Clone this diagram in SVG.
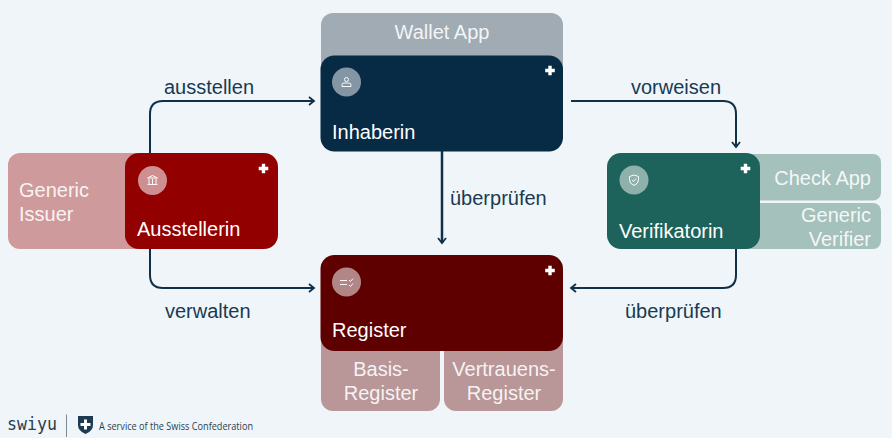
<svg xmlns="http://www.w3.org/2000/svg" width="892" height="438" viewBox="0 0 892 438">
<defs>
<marker id="arr" markerWidth="10" markerHeight="12" refX="7" refY="5" orient="auto" markerUnits="userSpaceOnUse" viewBox="0 0 10 10"><path d="M2 1L7 5L2 9" fill="none" stroke="#0f3048" stroke-width="1.8"/></marker>
<path id="plus" d="M-1.7 -4.8H1.7V-1.7H4.8V1.7H1.7V4.8H-1.7V1.7H-4.8V-1.7H-1.7Z" fill="#fff"/>
</defs>
<style>
text{font-family:"Liberation Sans",Arial,sans-serif}
.l{font-size:20px;fill:#1a3a52}
.n{font-size:20px;fill:#fff}
.s{font-size:20px;fill:#fff;fill-opacity:.9}
.m{text-anchor:middle}
.e{text-anchor:end}
.c{fill:none;stroke:#0f3048;stroke-width:2;marker-end:url(#arr)}
.i{fill:none;stroke:#fff;stroke-width:1;stroke-opacity:.95}
</style>
<rect width="892" height="438" fill="#eff5f9"/>
<g id="connectors">
<path class="c" d="M150 153V114Q150 101 163 101H314"/>
<path class="c" d="M150 249V275Q150 288 163 288H314"/>
<path class="c" d="M571 101H723Q736 101 736 114V147"/>
<path class="c" d="M736 249V275Q736 288 723 288H571"/>
<path class="c" d="M442 151V243" style="stroke-width:2.500"/>
</g>
<g id="labels">
<text class="l" x="164" y="94">ausstellen</text>
<text class="l" x="165" y="318">verwalten</text>
<text class="l" x="631" y="94">vorweisen</text>
<text class="l" x="625" y="318">überprüfen</text>
<text class="l" x="450" y="205">überprüfen</text>
</g>
<g id="node-generic-issuer">
<rect x="8" y="153" width="140" height="96" rx="12" fill="#cf9a9b"/>
<text class="s" x="19" y="197">Generic</text><text class="s" x="19" y="221">Issuer</text>
</g>
<g id="node-ausstellerin">
<rect x="125" y="153" width="153" height="96" rx="14" fill="#920000"/>
<circle cx="152.500" cy="180.500" r="14.500" fill="#cd8f90"/>
<path class="i" d="M147.500 178H157.500L152.500 175.500ZM149 179V184M152.500 179V184M156 179V184M147.500 184.500H157.500"/>
<use href="#plus" x="263.500" y="168.500"/>
<text class="n" x="137" y="236">Ausstellerin</text>
</g>
<g id="node-wallet-app">
<rect x="321" y="13" width="242" height="70" rx="12" fill="#a0abb4"/>
<text class="s m" x="442" y="39">Wallet App</text>
</g>
<g id="node-inhaberin">
<rect x="320.500" y="55.500" width="242.500" height="96" rx="14" fill="#072a45"/>
<circle cx="346.500" cy="82" r="14.500" fill="#8495a3"/>
<circle class="i" cx="346.500" cy="79.500" r="2"/>
<path class="i" d="M342 86.500V85Q342 83 344 83H349Q351 83 351 85V86.500Z"/>
<use href="#plus" x="550" y="70.500"/>
<text class="n" x="332" y="139">Inhaberin</text>
</g>
<g id="node-check-app">
<rect x="740" y="154" width="141" height="46.500" rx="8" fill="#a5c1bb"/>
<text class="s e" x="871" y="185">Check App</text>
</g>
<g id="node-generic-verifier">
<rect x="740" y="203" width="141" height="46" rx="8" fill="#a5c1bb"/>
<text class="s e" x="871" y="222">Generic</text><text class="s e" x="871" y="246">Verifier</text>
</g>
<g id="node-verifikatorin">
<rect x="607" y="153" width="153" height="96" rx="14" fill="#1d635b"/>
<circle cx="634" cy="180" r="14.500" fill="#8eb1ac"/>
<path class="i" d="M634 175L638.500 176.500V180Q638.500 183.500 634 185.500Q629.500 183.500 629.500 180V176.500Z"/>
<path class="i" d="M632 180L633.500 181.500L636 178.500"/>
<use href="#plus" x="745.500" y="168.500"/>
<text class="n" x="619" y="238">Verifikatorin</text>
</g>
<g id="node-basis-register">
<rect x="321" y="330" width="119" height="81" rx="12" fill="#b99798"/>
<text class="s m" x="381" y="376">Basis-</text><text class="s m" x="381" y="400">Register</text>
</g>
<g id="node-vertrauens-register">
<rect x="444" y="330" width="119" height="81" rx="12" fill="#b99798"/>
<text class="s m" x="504" y="376">Vertrauens-</text><text class="s m" x="504" y="400">Register</text>
</g>
<g id="node-register">
<rect x="320.500" y="255" width="242.500" height="96" rx="14" fill="#5e0000"/>
<circle cx="346.500" cy="282" r="14.500" fill="#b28586"/>
<path class="i" d="M340 280.500H347M340 284.500H347M349 280L350.500 281.500L353 278.500M349 285L350.500 286.500L353 283.500"/>
<use href="#plus" x="550" y="270.500"/>
<text class="n" x="332" y="337">Register</text>
</g>
<g id="footer">
<text x="7" y="430" font-size="17" style="font-family:'DejaVu Sans Mono',monospace" textLength="50" lengthAdjust="spacingAndGlyphs" fill="#2a3f50">swiyu</text>
<path d="M66.500 414.500V437" stroke="#7c8a95" stroke-width="1"/>
<path d="M78 416H93V425Q93 431 85.500 434Q78 431 78 425Z" fill="#1d3a52"/>
<path d="M84 419.500H87V423H90.500V426H87V429.500H84V426H80.500V423H84Z" fill="#fff"/>
<text x="99" y="430" font-size="10.500" style="font-family:'Open Sans',sans-serif" textLength="154" lengthAdjust="spacingAndGlyphs" fill="#2a3f50">A service of the Swiss Confederation</text>
</g>
</svg>
